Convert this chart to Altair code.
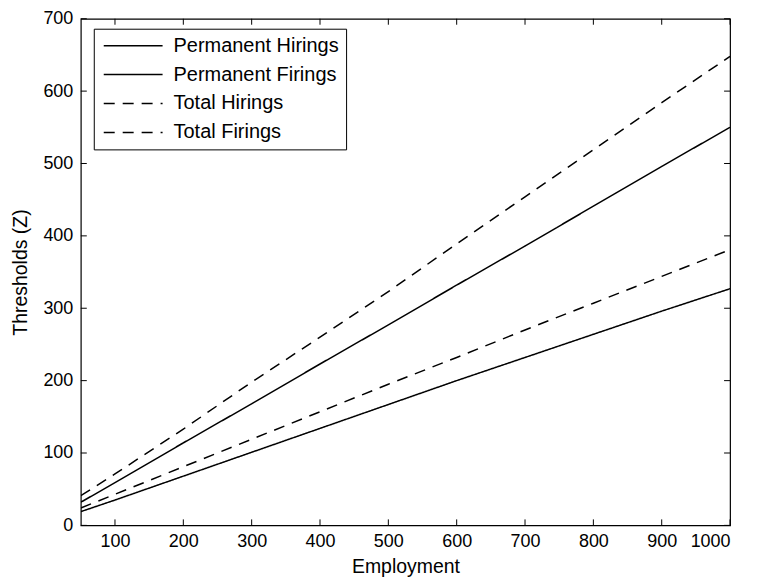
import altair as alt
import pandas as pd

employment = [50, 100, 200, 300, 400, 500, 600, 700, 800, 900, 1000]
permanent_hirings = [32, 59, 114, 168, 223, 277, 332, 386, 441, 496, 550]
permanent_firings = [19, 35, 68, 101, 134, 167, 200, 232, 264, 296, 327]
total_hirings = [41, 71, 133, 198, 260, 323, 389, 454, 519, 584, 648]
total_firings = [24, 43, 81, 119, 157, 195, 232, 270, 307, 344, 381]

series_names = ["Permanent Hirings", "Permanent Firings", "Total Hirings", "Total Firings"]
series_values = [permanent_hirings, permanent_firings, total_hirings, total_firings]

x_ticks = [100, 200, 300, 400, 500, 600, 700, 800, 900, 1000]
y_ticks = [0, 100, 200, 300, 400, 500, 600, 700]

rows = []
for name, vals in zip(series_names, series_values):
    for x, y in zip(employment, vals):
        rows.append({"Employment": x, "Z": y, "series": name})
df = pd.DataFrame(rows)

W, H = 651, 508
FONT = "Liberation Sans"

xscale = alt.Scale(domain=[50, 1000], nice=False, zero=False)
yscale = alt.Scale(domain=[0, 700], nice=False)

lines = alt.Chart(df).mark_line(color="black", strokeWidth=1.5, clip=True).encode(
    x=alt.X("Employment:Q", scale=xscale,
            axis=alt.Axis(values=x_ticks, format="d", title="Employment", tickSize=0,
                          labelPadding=7, titlePadding=7, domain=False, grid=False,
                          labelFont=FONT, labelFontSize=18, labelColor="black",
                          titleFont=FONT, titleFontSize=19.5, titleFontWeight="normal",
                          titleColor="black")),
    y=alt.Y("Z:Q", scale=yscale,
            axis=alt.Axis(values=y_ticks, format="d", title="Thresholds (Z)", tickSize=0,
                          labelPadding=8, titlePadding=12, domain=False, grid=False,
                          labelFont=FONT, labelFontSize=18, labelColor="black",
                          titleFont=FONT, titleFontSize=19.5, titleFontWeight="normal",
                          titleColor="black")),
    strokeDash=alt.StrokeDash(
        "series:N",
        scale=alt.Scale(domain=series_names, range=[[1, 0], [1, 0], [11, 8], [11, 8]]),
        legend=alt.Legend(title=None, orient="none", legendX=13, legendY=10,
                          symbolType="stroke", symbolSize=3481, symbolStrokeWidth=1.5,
                          symbolStrokeColor="black", symbolOffset=2,
                          labelFontSize=20, labelFont=FONT,
                          labelColor="black", labelOffset=10, rowPadding=9, clipHeight=20,
                          labelLimit=400, padding=7, strokeColor="black",
                          fillColor="white", cornerRadius=0),
    ),
    order=alt.Order("Employment:Q"),
)

xt = pd.DataFrame({"t": x_ticks})
yt = pd.DataFrame({"t": y_ticks})
bottom_ticks = alt.Chart(xt).mark_rule(color="black").encode(
    x=alt.X("t:Q", scale=xscale), y=alt.value(H), y2=alt.value(H - 6))
top_ticks = alt.Chart(xt).mark_rule(color="black").encode(
    x=alt.X("t:Q", scale=xscale), y=alt.value(0), y2=alt.value(6))
left_ticks = alt.Chart(yt).mark_rule(color="black").encode(
    y=alt.Y("t:Q", scale=yscale), x=alt.value(0), x2=alt.value(6))
right_ticks = alt.Chart(yt).mark_rule(color="black").encode(
    y=alt.Y("t:Q", scale=yscale), x=alt.value(W), x2=alt.value(W - 6))

chart = alt.layer(lines, bottom_ticks, top_ticks, left_ticks, right_ticks).properties(
    width=W, height=H,
    background="white",
    autosize=alt.AutoSizeParams(type="none"),
    padding={"left": 73, "top": 10, "right": 20, "bottom": 55},
).configure_view(stroke="black", strokeWidth=1.2)

chart.save("out.html", embed_options={"renderer": "svg", "actions": False})
